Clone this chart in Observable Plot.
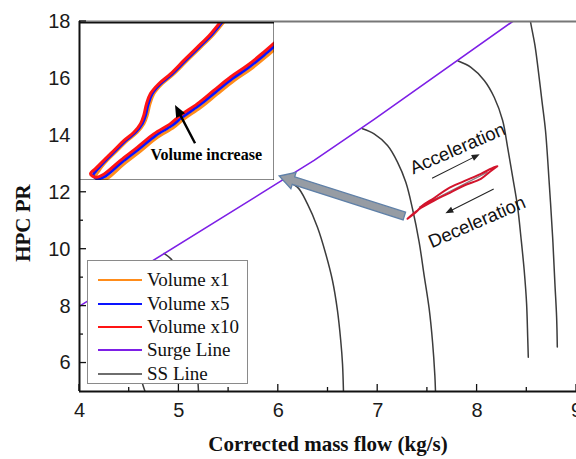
<!DOCTYPE html>
<html><head><meta charset="utf-8">
<script src="https://cdn.jsdelivr.net/npm/d3@7"></script>
<script src="https://cdn.jsdelivr.net/npm/@observablehq/plot@0.6"></script>
<style>
body{margin:0;background:#fff;}
#wrap{position:relative;width:576px;height:459px;overflow:hidden;background:#fff;}
#inset{position:absolute;left:79px;top:22px;}
#legend{position:absolute;left:87px;top:260px;width:159px;height:122px;border:1px solid #8a8a8a;background:#fff;font-family:"Liberation Serif","Times New Roman",serif;font-size:19px;color:#111;}
.row{position:absolute;left:10px;height:24px;display:flex;align-items:center;white-space:nowrap;}
.sw{display:inline-block;width:44px;height:2px;margin-right:5px;}
#ylab{position:absolute;left:23px;top:223px;transform:translate(-50%,-50%) rotate(-90deg);font-family:"Liberation Serif","Times New Roman",serif;font-weight:bold;font-size:21px;color:#111;white-space:nowrap;}
</style></head><body><div id="wrap"><div id="main"></div><div id="inset"></div><div id="legend"></div><div id="ylab"></div></div>
<script>
// ---- axes ----
const xDomain = [4, 9];
const yDomain = [5, 18];
const xTicks = [4, 5, 6, 7, 8, 9];
const xMinorTicks = [4.5, 5.5, 6.5, 7.5, 8.5];
const yTicks = [6, 8, 10, 12, 14, 16, 18];
const yMinorTicks = [7, 9, 11, 13, 15, 17];
const xLabel = "Corrected mass flow (kg/s)";
const yLabel = "HPC PR";

// ---- surge line ----
const surgeLine = [[4.0, 8.0], [5.823, 11.95], [6.36, 13.12], [6.964, 14.56], [8.357, 18.0], [8.45, 18.25]];

// ---- steady-state speed lines ----
const ssLine0 = [[4.2, 8.43], [4.27, 8.28], [4.34, 8.0], [4.42, 7.5], [4.5, 6.9], [4.56, 6.2], [4.61, 5.6], [4.64, 5.2], [4.665, 4.95]];
const ssLine1 = [[4.85, 9.85], [4.92, 9.66], [4.98, 9.35], [5.04, 8.8], [5.09, 8.1], [5.13, 7.3], [5.165, 6.4], [5.185, 5.7], [5.198, 4.95]];
const ssLine2 = [[6.041, 12.44], [6.192, 12.18], [6.293, 11.59], [6.394, 10.77], [6.477, 9.84], [6.545, 8.9], [6.595, 7.85], [6.628, 6.79], [6.646, 5.97], [6.656, 4.95]];
const ssLine3 = [[6.847, 14.23], [6.964, 14.05], [7.099, 13.64], [7.199, 13.06], [7.283, 12.35], [7.35, 11.42], [7.417, 10.25], [7.467, 9.08], [7.518, 7.9], [7.552, 6.73], [7.575, 5.56], [7.582, 4.95]];
const ssLine4 = [[7.81, 16.61], [7.938, 16.39], [8.072, 15.93], [8.172, 15.34], [8.257, 14.52], [8.307, 13.58], [8.358, 12.53], [8.408, 11.47], [8.441, 10.42], [8.474, 9.25], [8.498, 8.08], [8.509, 6.91], [8.515, 6.2]];
const ssLine5 = [[8.53, 18.2], [8.537, 18.0], [8.582, 17.16], [8.612, 16.38], [8.652, 15.22], [8.688, 14.17], [8.726, 12.3], [8.76, 10.42], [8.783, 8.78], [8.8, 7.61], [8.807, 6.56]];

// ---- transient loop (main plot) ----
const loopUpper = [[7.3, 11.068], [7.384, 11.299], [7.451, 11.535], [7.568, 11.798], [7.703, 12.122], [7.87, 12.389], [8.038, 12.649], [8.172, 12.881], [8.204, 12.916]];
const loopLower = [[8.204, 12.916], [8.139, 12.747], [8.038, 12.473], [7.87, 12.238], [7.703, 11.946], [7.568, 11.711], [7.434, 11.447], [7.366, 11.271], [7.3, 11.068]];
const loopInner = [[7.42, 11.48], [8.1, 12.7]];

// ---- annotations ----
const bigArrow = [{x1: 7.273, y1: 11.148, x2: 6.014, y2: 12.554}];
const accelArrow = [{x1: 7.552, y1: 12.473, x2: 8.031, y2: 13.316}];
const decelArrow = [{x1: 8.172, y1: 12.097, x2: 7.686, y2: 11.243}];
const notes = [{label: "Acceleration", x: 7.804, y: 13.53}, {label: "Deceleration", x: 7.998, y: 10.95}];

// ---- inset (zoom of the loop tip) ----
const insetRed = [[7.4497, 11.468], [7.4344, 11.421], [7.4207, 11.387], [7.407, 11.354], [7.3933, 11.32], [7.3813, 11.295], [7.3728, 11.27], [7.3687, 11.244], [7.3659, 11.215], [7.3626, 11.194], [7.3557, 11.172], [7.3454, 11.151], [7.3352, 11.126], [7.3249, 11.101], [7.3164, 11.08], [7.3113, 11.067],
  [7.3164, 11.058], [7.3249, 11.066], [7.342, 11.101], [7.3592, 11.134], [7.3762, 11.168], [7.3933, 11.194], [7.4036, 11.215], [7.4207, 11.244], [7.4377, 11.278], [7.4549, 11.312], [7.472, 11.341], [7.489, 11.375], [7.5062, 11.412]];
const insetBlue = [[7.4515, 11.468], [7.4362, 11.421], [7.4225, 11.387], [7.4088, 11.354], [7.3951, 11.32], [7.3831, 11.295], [7.3746, 11.27], [7.3705, 11.244], [7.3677, 11.215], [7.3644, 11.194], [7.3575, 11.172], [7.3472, 11.151], [7.337, 11.126], [7.3267, 11.101], [7.3182, 11.078], [7.314, 11.063],
  [7.319, 11.054], [7.3265, 11.061], [7.3436, 11.0965], [7.3608, 11.1295], [7.3778, 11.1635], [7.3949, 11.1895], [7.4052, 11.2105], [7.4223, 11.2395], [7.4393, 11.2735], [7.4565, 11.3075], [7.4736, 11.3365], [7.4906, 11.3705], [7.5078, 11.4075]];
const insetOrange = [[7.4533, 11.468], [7.438, 11.421], [7.4243, 11.387], [7.4106, 11.354], [7.3969, 11.32], [7.3849, 11.295], [7.3764, 11.27], [7.3723, 11.244], [7.3695, 11.215], [7.3662, 11.194], [7.3593, 11.172], [7.349, 11.151], [7.3388, 11.126], [7.3285, 11.101], [7.32, 11.075], [7.3165, 11.058],
  [7.3215, 11.049], [7.329, 11.056], [7.3455, 11.0915], [7.3627, 11.1245], [7.3797, 11.1585], [7.3968, 11.1845], [7.4071, 11.2055], [7.4242, 11.2345], [7.4412, 11.2685], [7.4584, 11.3025], [7.4755, 11.3315], [7.4925, 11.3655], [7.5097, 11.4025]];
const insetArrow = [{x1: 7.419, y1: 11.143, x2: 7.3985, y2: 11.24}];
const insetNote = [{label: "Volume increase", x: 7.3728, y: 11.116}];

// ---- legend ----
const legendLabels = ["Volume x1", "Volume x5", "Volume x10", "Surge Line", "SS Line"];
const legendColors = ["#ff8c1a", "#0a14ff", "#ff1414", "#7d1fe6", "#6e6e6e"];

// ---------- build ----------
const sans = "'Liberation Sans', Arial, sans-serif";
const serif = "'Liberation Serif', 'Times New Roman', serif";
const toPts = (arr, id) => arr.map(([x, y]) => ({x, y, id}));
const ssData = [ssLine0, ssLine1, ssLine2, ssLine3, ssLine4, ssLine5].flatMap((a, i) => toPts(a, "ss" + i));
const loopData = toPts(loopUpper.concat(loopLower), "loop");

// block arrow drawn through the plot's scales
function arrowMark(data, {shaft, headW, headL, fill, stroke = "none", sw = 0}) {
  return (index, {x, y}) => {
    const g = d3.create("svg:g");
    for (const d of data) {
      const x1 = x(d.x1), y1 = y(d.y1), x2 = x(d.x2), y2 = y(d.y2);
      const L = Math.hypot(x2 - x1, y2 - y1), ux = (x2 - x1) / L, uy = (y2 - y1) / L, nx = -uy, ny = ux;
      const hx = x2 - ux * headL, hy = y2 - uy * headL;
      const pts = [[x1 + nx * shaft, y1 + ny * shaft], [hx + nx * shaft, hy + ny * shaft], [hx + nx * headW, hy + ny * headW], [x2, y2],
        [hx - nx * headW, hy - ny * headW], [hx - nx * shaft, hy - ny * shaft], [x1 - nx * shaft, y1 - ny * shaft]];
      g.append("path").attr("d", "M" + pts.map(p => p.join(",")).join("L") + "Z")
        .attr("fill", fill).attr("stroke", stroke).attr("stroke-width", sw).attr("stroke-linejoin", "miter");
    }
    return g.node();
  };
}

// inward ticks drawn through the plot's scales
function ticksMark(index, {x, y}) {
  const g = d3.create("svg:g").attr("stroke", "#111").attr("stroke-width", 1.3);
  const yb = y(yDomain[0]), xl = x(xDomain[0]);
  const add = (x1, y1, x2, y2) => g.append("line").attr("x1", x1).attr("y1", y1).attr("x2", x2).attr("y2", y2);
  xTicks.forEach(v => add(x(v), yb, x(v), yb - 7));
  xMinorTicks.forEach(v => add(x(v), yb, x(v), yb - 4));
  yTicks.forEach(v => add(xl, y(v), xl + 7, y(v)));
  yMinorTicks.forEach(v => add(xl, y(v), xl + 4, y(v)));
  return g.node();
}

const main = Plot.plot({
  width: 576, height: 459,
  marginLeft: 79, marginRight: 0, marginTop: 21, marginBottom: 68,
  x: {domain: xDomain},
  y: {domain: yDomain},
  style: {fontFamily: sans, color: "#1a1a1a", background: "white", overflow: "visible"},
  marks: [
    Plot.line(ssData, {x: "x", y: "y", z: "id", stroke: "#3c3c3c", strokeWidth: 1.5, curve: "catmull-rom", clip: true}),
    Plot.line(toPts(surgeLine, "surge"), {x: "x", y: "y", stroke: "#7d1fe6", strokeWidth: 1.6, clip: true}),
    Plot.line(toPts(loopInner, "inner"), {x: "x", y: "y", stroke: "#8a7a80", strokeWidth: 1.2}),
    Plot.line(loopData, {x: "x", y: "y", stroke: "#d3142c", strokeWidth: 2, curve: "catmull-rom"}),
    arrowMark(accelArrow, {shaft: 0.5, headW: 3.2, headL: 8, fill: "#222"}),
    arrowMark(decelArrow, {shaft: 0.5, headW: 3.2, headL: 8, fill: "#222"}),
    Plot.text(notes, {x: "x", y: "y", text: "label", rotate: -23.5, fontSize: 18.5, fontFamily: sans, fill: "#111", textAnchor: "middle", lineAnchor: "middle"}),
    arrowMark(bigArrow, {shaft: 4, headW: 8.5, headL: 15, fill: "#969ca4", stroke: "#5f80a8", sw: 1.3}),
    Plot.ruleY([yDomain[1]], {stroke: "#777", strokeWidth: 2}),
    Plot.ruleX([xDomain[0]], {stroke: "#111", strokeWidth: 2}),
    Plot.ruleY([yDomain[0]], {stroke: "#111", strokeWidth: 2}),
    ticksMark,
    Plot.axisX(xTicks, {tickSize: 0, tickPadding: 11, fontSize: 20, label: null, tickFormat: d => d}),
    Plot.axisY(yTicks, {tickSize: 0, tickPadding: 9, fontSize: 20, label: null, tickFormat: d => d}),
    Plot.text([xLabel], {text: d => d, frameAnchor: "bottom", dy: 53, fontSize: 21, fontWeight: "bold", fontFamily: serif, fill: "#111", lineAnchor: "middle"})
  ]
});
document.getElementById("main").appendChild(main);
document.getElementById("ylab").textContent = yLabel;

const inset = Plot.plot({
  width: 195, height: 158, margin: 0,
  x: {domain: [7.30, 7.50], axis: null},
  y: {domain: [11.05, 11.45], axis: null},
  style: {background: "white", overflow: "hidden"},
  marks: [
    Plot.line(toPts(insetOrange, "o"), {x: "x", y: "y", stroke: "#ff8c1a", strokeWidth: 3, curve: "catmull-rom", clip: true}),
    Plot.line(toPts(insetBlue, "b"), {x: "x", y: "y", stroke: "#0a14ff", strokeWidth: 3, curve: "catmull-rom", clip: true}),
    Plot.line(toPts(insetRed, "r"), {x: "x", y: "y", stroke: "#ff1414", strokeWidth: 3, curve: "catmull-rom", clip: true}),
    arrowMark(insetArrow, {shaft: 1.2, headW: 5, headL: 12, fill: "#000"}),
    Plot.text(insetNote, {x: "x", y: "y", text: "label", textAnchor: "start", fontSize: 16, fontWeight: "bold", fontFamily: serif, fill: "#000"}),
    Plot.frame({stroke: "#111", strokeWidth: 2})
  ]
});
document.getElementById("inset").appendChild(inset);

const leg = document.getElementById("legend");
const rowCenters = [19.3, 42.6, 66, 89.3, 112.7];
legendLabels.forEach((lab, i) => {
  const r = document.createElement("div");
  r.className = "row";
  r.style.top = (rowCenters[i] - 12) + "px";
  r.innerHTML = `<span class="sw" style="background:${legendColors[i]}"></span><span>${lab}</span>`;
  leg.appendChild(r);
});
</script></body></html>
